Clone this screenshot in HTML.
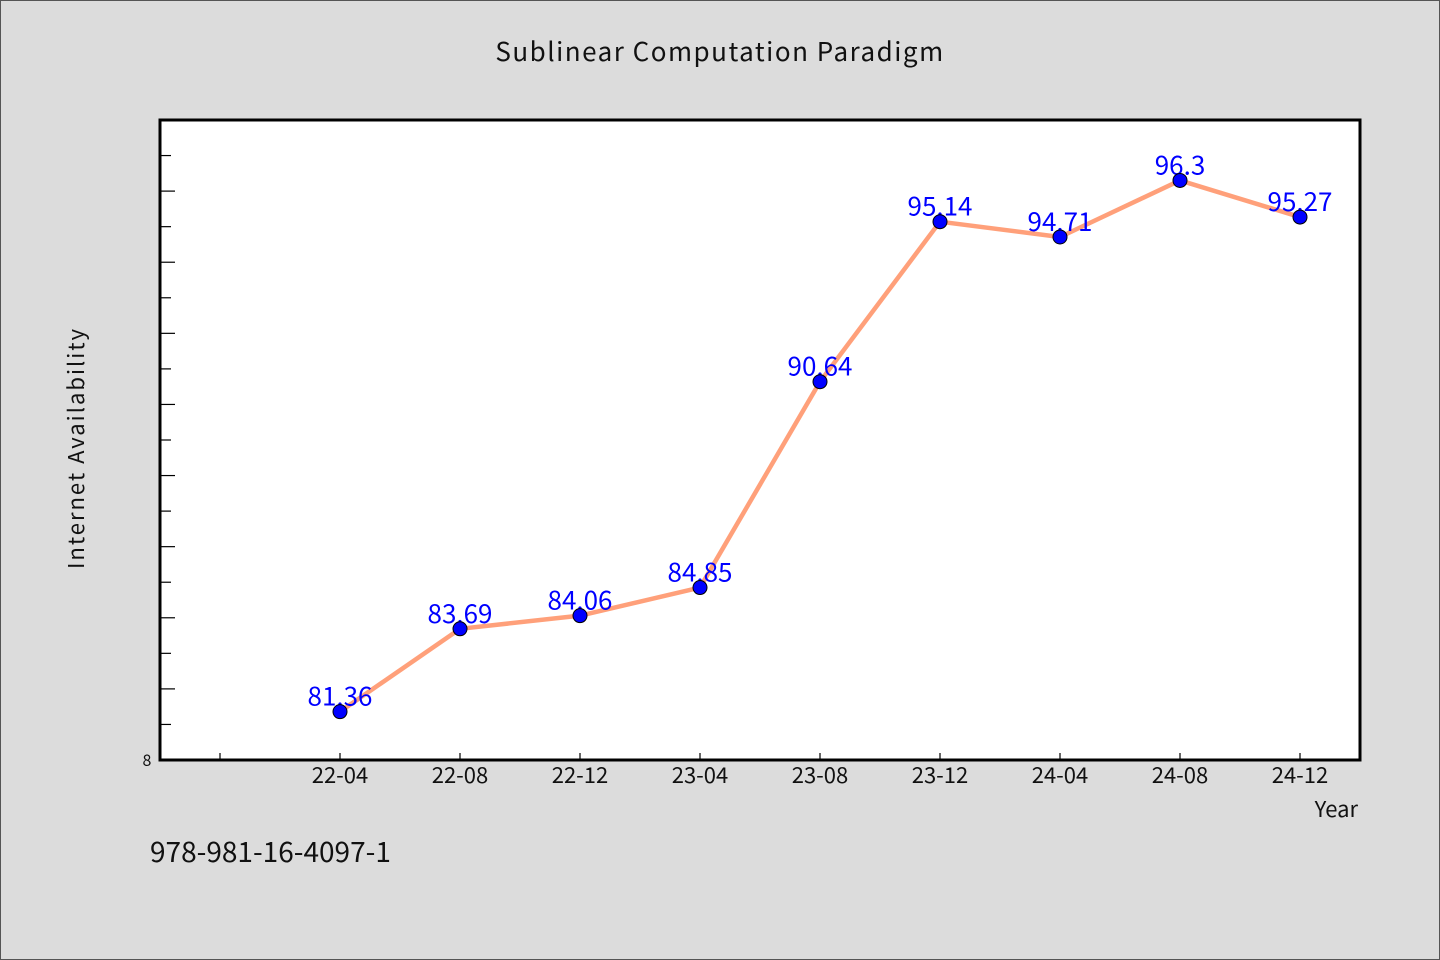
<!DOCTYPE html>
<html><head><meta charset="utf-8"><style>
body{margin:0;background:#dcdcdc;}
svg{display:block;}
text{font-family:"WenQuanYi Zen Hei","Noto Sans CJK SC","Liberation Sans",sans-serif;}
</style></head><body>
<svg id="chart" width="1440" height="960">
<rect x="0.5" y="0.5" width="1439" height="959" fill="#dcdcdc" stroke="#555"/>
<text x="720" y="61" text-anchor="middle" font-size="26" fill="#111" letter-spacing="1.5">Sublinear Computation Paradigm</text>
<rect x="160" y="120" width="1200" height="640" fill="#fff"/>
<g id="yticks"></g><g id="xticks"></g>
<rect x="160" y="120" width="1200" height="640" fill="none" stroke="#000" stroke-width="3"/>
<text x="147" y="766" text-anchor="middle" font-size="16" fill="#111">8</text>
<text transform="translate(84,448) rotate(-90)" text-anchor="middle" font-size="22" fill="#111" letter-spacing="2">Internet Availability</text>
<text x="1358" y="817" text-anchor="end" font-size="22" fill="#111">Year</text>
<text x="150" y="862" font-size="28" fill="#111">978-981-16-4097-1</text>
<g id="series"></g>
</svg>
<script>
const categories=["22-04","22-08","22-12","23-04","23-08","23-12","24-04","24-08","24-12"];
const values=[81.36,83.69,84.06,84.85,90.64,95.14,94.71,96.3,95.27];
const labels=["81.36","83.69","84.06","84.85","90.64","95.14","94.71","96.3","95.27"];
const yMin=80,yMax=98;
const NS="http://www.w3.org/2000/svg";
function xS(i){return 160+(i+1.5)*120;}
function yS(v){return 760-(v-yMin)/(yMax-yMin)*640;}
function mk(t,a,p){const e=document.createElementNS(NS,t);for(const k in a)e.setAttribute(k,a[k]);p.appendChild(e);return e;}
const yt=document.getElementById('yticks');
for(let v=yMin+1;v<yMax;v++){
 const l=mk('line',{x1:161,x2:(v%2===0)?175:171,y1:yS(v),y2:yS(v),stroke:'#000','stroke-width':1.2},yt);
 
 
}
const xt=document.getElementById('xticks');
for(let i=-1;i<categories.length;i++){
 const t=mk('line',{x1:xS(i),x2:xS(i),y1:759,y2:753,stroke:'#000','stroke-width':1.2},xt);
 
 
 if(i>=0){
  const tx=mk('text',{x:xS(i),y:783,'text-anchor':'middle','font-size':22,fill:'#111'},xt);
  tx.textContent=categories[i];
  
  
 }
}
const s=document.getElementById('series');
const pl=mk('polyline',{points:values.map((v,i)=>xS(i)+','+yS(v)).join(' '),fill:'none',stroke:'#ffa07a','stroke-width':4.5,'stroke-linejoin':'round'},s);


values.forEach((v,i)=>{
 const t=mk('text',{x:xS(i),y:yS(v)-6,'text-anchor':'middle','font-size':26,fill:'#0000ff'},s);
 t.textContent=labels[i];
 
 
});
values.forEach((v,i)=>{
 const c=mk('circle',{cx:xS(i),cy:yS(v),r:7,fill:'#0000ff',stroke:'#000','stroke-width':1},s);
 
 
});
</script>
</body></html>
